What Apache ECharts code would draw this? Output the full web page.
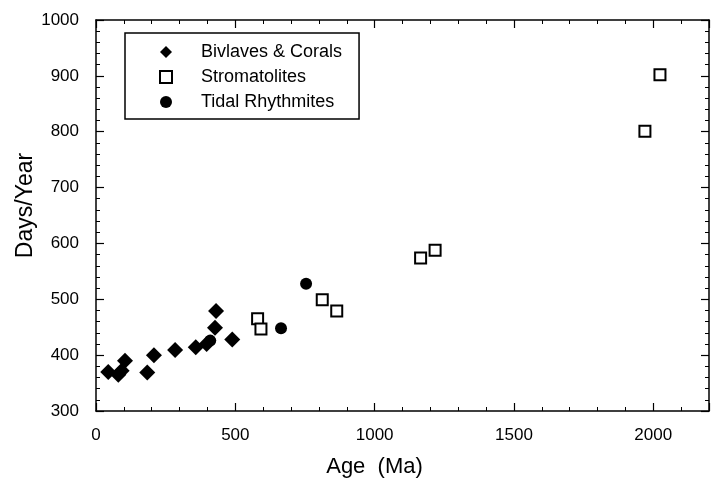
<!DOCTYPE html>
<html>
<head>
<meta charset="utf-8">
<script src="https://cdn.jsdelivr.net/npm/echarts@6/dist/echarts.min.js"></script>
<style>
html,body{margin:0;padding:0;background:#fff;}
#c{width:714px;height:479px;}
</style>
</head>
<body>
<div id="c"></div>
<script>
const seriesNames = ['Bivlaves & Corals', 'Stromatolites', 'Tidal Rhythmites'];
const bivalvesCorals = [[44,370],[80,365],[92,372],[104,390],[184,369],[208,400],[284,409],[358,414],[397,420],[427,449],[431,479],[489,428]];
const stromatolites = [[580,465],[592,447],[812,499],[864,479],[1165,574],[1217,588],[1970,801],[2024,902]];
const tidalRhythmites = [[410,426],[664,448],[754,528]];
const xRange = [0, 2200];
const yRange = [300, 1000];
const xTitle = 'Age  (Ma)';
const yTitle = 'Days/Year';

const FONT = '"Liberation Sans", Arial, Helvetica, sans-serif';
const chart = echarts.init(document.getElementById('c'), null, {renderer:'canvas'});

function plain(v) { return String(v); }

function axisBase(extra) {
  return Object.assign({
    nameMoveOverlap: false,
    axisLine: {show: true, onZero: false, lineStyle: {color: '#000', width: 1.5}},
    axisTick: {show: true, inside: true, length: 8, lineStyle: {color: '#000', width: 1.2}},
    minorTick: {show: true, splitNumber: 5, length: 4, lineStyle: {color: '#000', width: 1}},
    splitLine: {show: false},
    minorSplitLine: {show: false}
  }, extra);
}

const option = {
  backgroundColor: '#fff',
  animation: false,
  grid: {left: 96, right: 5, top: 20, bottom: 68, containLabel: false, outerBoundsMode: 'none'},
  legend: {
    orient: 'vertical',
    left: 125, top: 33,
    padding: [10, 17, 8, 34],
    itemGap: 7,
    itemWidth: 12, itemHeight: 12,
    borderColor: '#000', borderWidth: 1.5,
    textStyle: {color: '#000', fontFamily: FONT, fontSize: 18, padding: [0,0,0,24]},
    data: [
      {name: seriesNames[0], icon: 'diamond'},
      {name: seriesNames[1], icon: 'rect'},
      {name: seriesNames[2], icon: 'circle'}
    ]
  },
  xAxis: [
    axisBase({type: 'value', min: xRange[0], max: xRange[1], interval: 500, position: 'bottom',
      name: xTitle, nameLocation: 'middle', nameGap: 45,
      nameTextStyle: {color: '#000', fontFamily: FONT, fontSize: 22, padding: [0, 56, 0, 0]},
      axisLabel: {color: '#000', fontFamily: FONT, fontSize: 17, margin: 16,
        showMaxLabel: false, formatter: plain}}),
    axisBase({type: 'value', min: xRange[0], max: xRange[1], interval: 500, position: 'top',
      axisLabel: {show: false}})
  ],
  yAxis: [
    axisBase({type: 'value', min: yRange[0], max: yRange[1], interval: 100, position: 'left',
      name: yTitle, nameLocation: 'middle', nameGap: 59,
      nameTextStyle: {color: '#000', fontFamily: FONT, fontSize: 23, padding: [0, 0, 0, 20]},
      axisLabel: {color: '#000', fontFamily: FONT, fontSize: 17, margin: 17, formatter: plain}}),
    axisBase({type: 'value', min: yRange[0], max: yRange[1], interval: 100, position: 'right',
      axisLabel: {show: false}})
  ],
  series: [
    {name: seriesNames[0], type: 'scatter', symbol: 'diamond', symbolSize: 16,
     itemStyle: {color: '#000', opacity: 1}, data: bivalvesCorals},
    {name: seriesNames[1], type: 'scatter', symbol: 'rect', symbolSize: 11,
     itemStyle: {color: '#fff', borderColor: '#000', borderWidth: 2, opacity: 1}, data: stromatolites},
    {name: seriesNames[2], type: 'scatter', symbol: 'circle', symbolSize: 12,
     itemStyle: {color: '#000', opacity: 1}, data: tidalRhythmites}
  ]
};
chart.setOption(option);
</script>
</body>
</html>
